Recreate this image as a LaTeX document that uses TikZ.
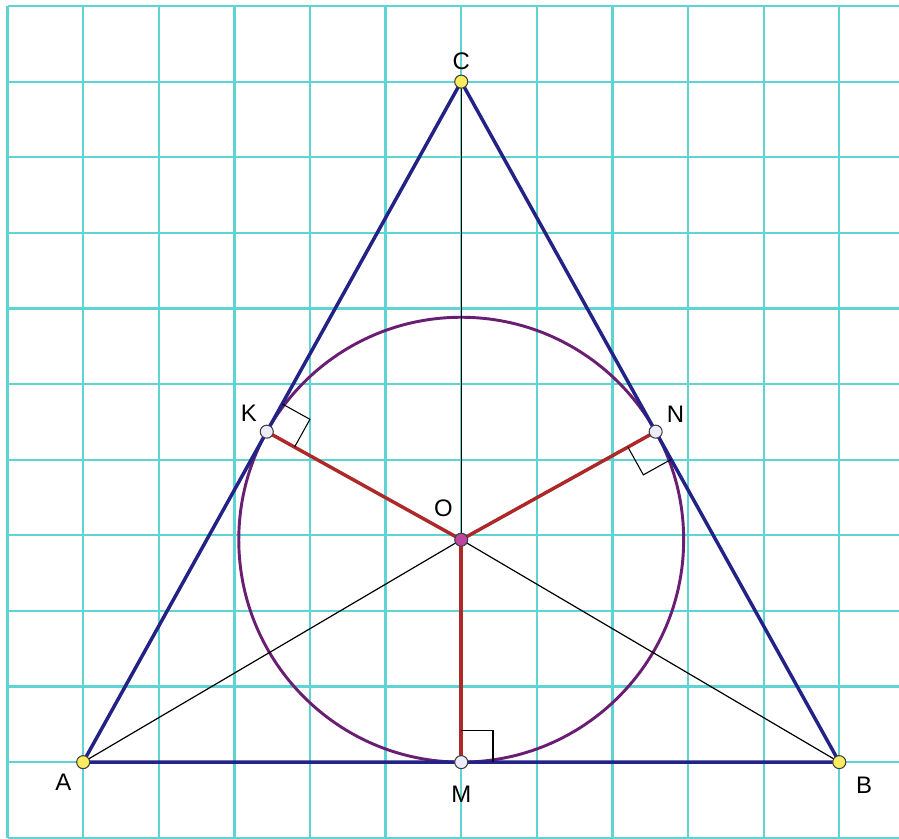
\documentclass[tikz,border=0pt]{standalone}
\usepackage{fontspec}
\setmainfont{Liberation Sans}
\usetikzlibrary{calc}
\definecolor{gridcyan}{RGB}{95,212,212}
\definecolor{sidenavy}{RGB}{35,35,135}
\definecolor{circpurple}{RGB}{105,30,115}
\definecolor{segred}{RGB}{175,40,40}
\definecolor{dotyellow}{RGB}{250,235,95}
\definecolor{dotpale}{RGB}{238,236,250}
\definecolor{dotmagenta}{RGB}{190,70,160}

\begin{document}
\begin{tikzpicture}[x=1cm,y=1cm,
  gridline/.style={draw=gridcyan,line width=0.85pt},
  side/.style={draw=sidenavy,line width=1.3pt},
  incircle/.style={draw=circpurple,line width=1.1pt},
  radseg/.style={draw=segred,line width=1.3pt},
  thinline/.style={draw=black,line width=0.45pt},
  rightmark/.style={draw=black,line width=0.4pt},
  dot/.style={circle,draw=black!75,line width=0.4pt,inner sep=0pt,minimum size=4.9pt},
  vertexdot/.style={dot,fill=dotyellow},
  touchdot/.style={dot,fill=dotpale},
  lbl/.style={font=\fontsize{9}{10}\selectfont,inner sep=1pt}]

  \useasboundingbox (-0.1,-1.005) rectangle (11.79,10.08);
  \fill[white] (-0.1,-1.005) rectangle (11.79,10.08);
  \draw[gridline] (0,-1) grid (11.79,10);

  \pgfmathsetmacro{\rin}{45/(5+sqrt(106))}
  \coordinate (A) at (1,0);
  \coordinate (B) at (11,0);
  \coordinate (C) at (6,9);
  \coordinate (O) at (6,\rin);
  \coordinate (M) at ($(A)!(O)!(B)$);
  \coordinate (K) at ($(A)!(O)!(C)$);
  \coordinate (N) at ($(B)!(O)!(C)$);

  \draw[incircle] (O) circle (\rin);
  \draw[thinline] (A) -- (O) -- (B);
  \draw[thinline] (C) -- (O);
  \draw[radseg] (K) -- (O) -- (N);
  \draw[radseg] (O) -- (M);
  \draw[side] (A) -- (B) -- (C) -- cycle;

  % right angles
  \coordinate (Kc) at ($(K)!0.42cm!(C)$);
  \coordinate (Ko) at ($(K)!0.42cm!(O)$);
  \draw[rightmark] (Kc) -- ($(Kc)+(Ko)-(K)$) -- (Ko);
  \coordinate (Nb) at ($(N)!0.42cm!(B)$);
  \coordinate (No) at ($(N)!0.42cm!(O)$);
  \draw[rightmark] (Nb) -- ($(Nb)+(No)-(N)$) -- (No);
  \coordinate (Mb) at ($(M)!0.42cm!(B)$);
  \coordinate (Mo) at ($(M)!0.42cm!(O)$);
  \draw[rightmark] (Mb) -- ($(Mb)+(Mo)-(M)$) -- (Mo);

  \node[vertexdot,label={[lbl,label distance=2pt]225:A}] (dotA) at (A) {};
  \node[vertexdot,label={[lbl,label distance=4pt]-40:B}] (dotB) at (B) {};
  \node[vertexdot,label={[lbl,label distance=0.5pt]90:C}] (dotC) at (C) {};
  \node[touchdot,label={[lbl,label distance=1pt]135:K}] (dotK) at (K) {};
  \node[touchdot,label={[lbl,label distance=1pt]35:N}] (dotN) at (N) {};
  \node[touchdot,label={[lbl,label distance=5pt]-90:M}] (dotM) at (M) {};
  \node[dot,fill=dotmagenta,label={[lbl,label distance=5pt]105:O}] (dotO) at (O) {};
\end{tikzpicture}
\end{document}
